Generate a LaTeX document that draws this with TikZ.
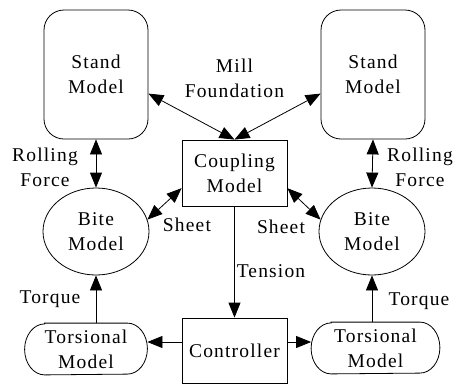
\documentclass[tikz,border=0pt]{standalone}
\usepackage{fontspec}
\setmainfont{Liberation Serif}[LetterSpace=6]
\usetikzlibrary{arrows.meta}
\usetikzlibrary{shapes.geometric}

\tikzset{
    every node/.style = {font=\fontsize{19.5}{25}\selectfont, align=center, inner sep=0pt},
    standbox/.style = {draw, rounded corners=20pt, minimum width=104pt, minimum height=129pt},
    plainbox/.style = {draw, minimum width=105pt, minimum height=66pt},
    bitebox/.style = {draw, ellipse, minimum width=106pt, minimum height=87pt},
    torsbox/.style = {minimum width=122pt, minimum height=51pt},
    link/.style = {-{Triangle[length=15pt,width=12pt]}},
    dbllink/.style = {{Triangle[length=15pt,width=12pt]}-{Triangle[length=15pt,width=12pt]}}
}
% outline with elliptic ends round a torsbox node
\newcommand{\torsoutline}[1]{%
    \draw ([xshift=20pt]#1.north west) -- ([xshift=-20pt]#1.north east)
        arc[start angle=90, end angle=-90, x radius=20pt, y radius=25.5pt]
        -- ([xshift=20pt]#1.south west)
        arc[start angle=270, end angle=90, x radius=20pt, y radius=25.5pt] -- cycle;}

\begin{document}
\begin{tikzpicture}[x=1pt, y=-1pt, line width=0.8pt]
                \useasboundingbox (0,0) rectangle (456,384);
                \node[standbox] (standL) at (96,74.5) {Stand\\Model};
                \node[standbox] (standR) at (373,74.5) {Stand\\Model};
                \node[plainbox] (coupling) at (234.5,173) {Coupling\\Model};
                \node[bitebox] (biteL) at (96,231.5) {Bite\\Model};
                \node[bitebox] (biteR) at (372,231.5) {Bite\\Model};
                \node[torsbox] (torsL) at (86,349) {Torsional\\Model};
                \node[torsbox, minimum width=128pt] (torsR) at (375.5,348) {Torsional\\Model};
                \torsoutline{torsL}
                \torsoutline{torsR}
                \node[plainbox, minimum height=65pt] (ctrl) at (234.5,350.5) {Controller};
                \coordinate (lvl) at (0,342);
                % labels
                \node (mill) at (234.5,78.5) {Mill\\Foundation};
                \node (rollL) at (45,167) {Rolling\\Force};
                \node (rollR) at (420,167) {Rolling\\Force};
                \node (sheetL) at (187,225) {Sheet};
                \node (sheetR) at (281,227) {Sheet};
                \node (tension) at (271,271) {Tension};
                \node (torqL) at (50,299) {Torque};
                \node (torqR) at (419,301) {Torque};
                % connectors
                \draw[dbllink] (standL.-20) to (coupling.north);
                \draw[dbllink] (standR.200) to (coupling.north);
                \draw[dbllink] (standL.south) to (biteL.north);
                \draw[dbllink] (standR.south) to (biteR.north);
                \draw[dbllink] (coupling.196) to (biteL.13);
                \draw[dbllink] (coupling.-16) to (biteR.167);
                \draw[link] (coupling.south) to (ctrl.north);
                \draw[link] (biteL.south |- torsL.north) to (biteL.south);
                \draw[link] (biteR.south |- torsR.north) to (biteR.south);
                \draw[link] (ctrl.west |- lvl) to (torsL.east |- lvl);
                \draw[link] (ctrl.east |- lvl) to (torsR.west |- lvl);
\end{tikzpicture}
\end{document}
